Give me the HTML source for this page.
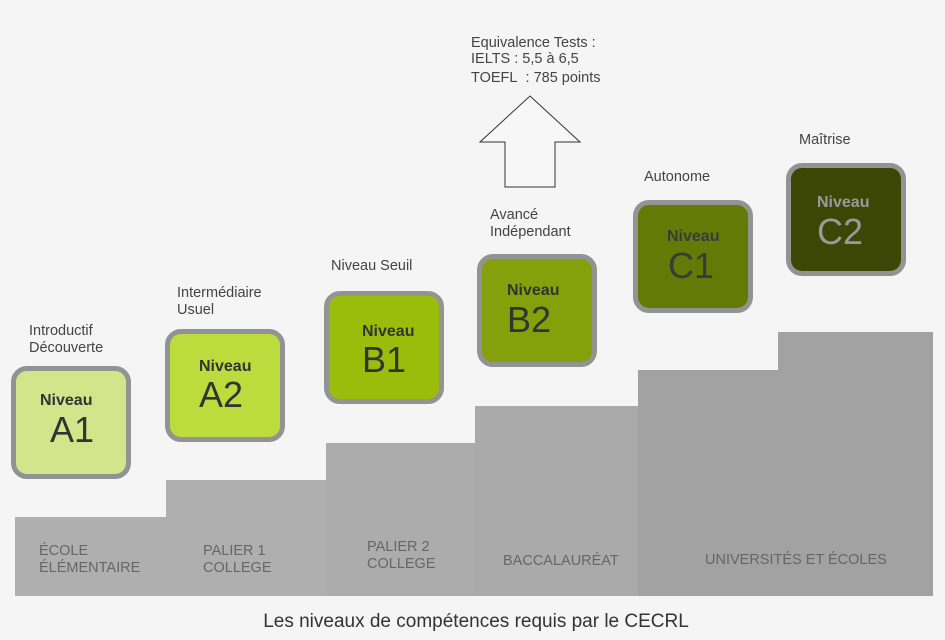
<!DOCTYPE html>
<html><head><meta charset="utf-8"><style>
body{margin:0;width:945px;height:640px;background:#f5f5f5;position:relative;overflow:hidden;font-family:"Liberation Sans",sans-serif}
.s{position:absolute;background:#adadad}
.b{position:absolute;width:110px;height:103px;border:5px solid #939393;border-radius:16px;box-sizing:content-box}
.b .n{position:absolute;font-weight:bold;font-size:16px}
.b .l{position:absolute;font-size:36px}
.t{position:absolute;font-size:14.5px;color:#444;line-height:17px}
.g{position:absolute;font-size:14.5px;color:#666;line-height:17px}
</style></head><body>
<div class="s" style="left:15px;top:517px;width:151px;height:79px;background:#afafaf"></div>
<div class="s" style="left:166px;top:480px;width:160px;height:116px;background:#afafaf"></div>
<div class="s" style="left:326px;top:443px;width:149px;height:153px;background:#acacac"></div>
<div class="s" style="left:475px;top:406px;width:163px;height:190px;background:#aaaaaa"></div>
<div class="s" style="left:638px;top:370px;width:140px;height:226px;background:#a2a2a2"></div>
<div class="s" style="left:778px;top:332px;width:155px;height:264px;background:#a2a2a2"></div>

<div class="g" style="left:39px;top:543px">ÉCOLE<br>ÉLÉMENTAIRE</div>
<div class="g" style="left:203px;top:543px">PALIER 1<br>COLLEGE</div>
<div class="g" style="left:367px;top:539px">PALIER 2<br>COLLEGE</div>
<div class="g" style="left:503px;top:553px">BACCALAURÉAT</div>
<div class="g" style="left:705px;top:552px">UNIVERSITÉS ET ÉCOLES</div>

<div class="b" style="left:11px;top:366px;background:#d4e48b"><div class="n" style="left:24px;top:21px;color:#333">Niveau</div><div class="l" style="left:34px;top:38px;color:#333">A1</div></div>
<div class="b" style="left:165px;top:329px;background:#bcdb3d"><div class="n" style="left:29px;top:24px;color:#333">Niveau</div><div class="l" style="left:29px;top:40px;color:#333">A2</div></div>
<div class="b" style="left:324px;top:291px;background:#9abd0b"><div class="n" style="left:33px;top:27px;color:#333">Niveau</div><div class="l" style="left:33px;top:43px;color:#333">B1</div></div>
<div class="b" style="left:477px;top:254px;background:#84a00a"><div class="n" style="left:25px;top:23px;color:#333">Niveau</div><div class="l" style="left:25px;top:40px;color:#333">B2</div></div>
<div class="b" style="left:633px;top:200px;background:#647a06"><div class="n" style="left:29px;top:23px;color:#3a3a3a">Niveau</div><div class="l" style="left:30px;top:40px;color:#3a3a3a">C1</div></div>
<div class="b" style="left:786px;top:163px;background:#3d4705"><div class="n" style="left:26px;top:26px;color:#999">Niveau</div><div class="l" style="left:26px;top:43px;color:#999">C2</div></div>

<div class="t" style="left:29px;top:323px">Introductif<br>Découverte</div>
<div class="t" style="left:177px;top:285px">Intermédiaire<br>Usuel</div>
<div class="t" style="left:331px;top:258px">Niveau Seuil</div>
<div class="t" style="left:490px;top:207px">Avancé<br>Indépendant</div>
<div class="t" style="left:644px;top:169px">Autonome</div>
<div class="t" style="left:799px;top:132px">Maîtrise</div>
<div class="t" style="left:471px;top:35px;line-height:16px">Equivalence Tests :<br>IELTS : 5,5 à 6,5<br><span style="display:inline-block;margin-top:3px">TOEFL&nbsp; : 785 points</span></div>

<svg style="position:absolute;left:0;top:0" width="945" height="640"><polygon points="530,96 580,142 555,142 555,187 505,187 505,142 480,142" fill="#f7f7f7" stroke="#333" stroke-width="1"/></svg>

<div style="position:absolute;left:0;width:952px;top:611px;text-align:center;font-size:19px;color:#333">Les niveaux de compétences requis par le CECRL</div>
</body></html>
